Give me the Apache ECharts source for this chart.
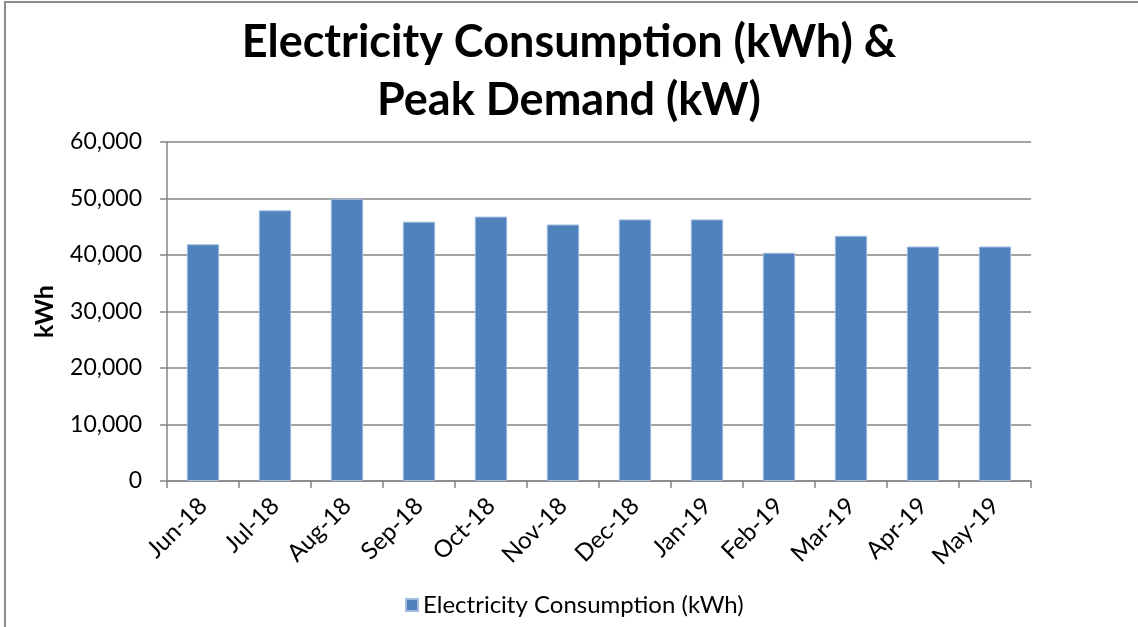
<!DOCTYPE html>
<html>
<head>
<meta charset="utf-8">
<script src="https://cdn.jsdelivr.net/npm/echarts@6/dist/echarts.min.js"></script>
<style>
  html, body { margin: 0; padding: 0; background: #fff; }
  #chart { width: 1138px; height: 627px; }
</style>
</head>
<body>
<div id="chart"></div>
<script>
// month labels along the bottom
var months = ['Jun-18', 'Jul-18', 'Aug-18', 'Sep-18', 'Oct-18', 'Nov-18',
              'Dec-18', 'Jan-19', 'Feb-19', 'Mar-19', 'Apr-19', 'May-19'];
// monthly consumption in kWh
var consumption = [41900, 47900, 49950, 45900, 46800, 45400,
                   46300, 46300, 40400, 43400, 41500, 41500];

var seriesName = 'Electricity Consumption (kWh)';
var gridColor = '#868686';
var barColor = '#4f81bd';
var font = 'Lato';

var chart = echarts.init(document.getElementById('chart'), null, { renderer: 'canvas' });

var option = {
    animation: false,
    backgroundColor: '#fff',
    title: {
        text: 'Electricity Consumption (kWh) &\nPeak Demand (kW)',
        left: 'center',
        top: 8,
        textStyle: {
            fontFamily: font,
            fontWeight: 'bold',
            fontSize: 45,
            lineHeight: 58,
            color: '#000'
        }
    },
    legend: {
        left: 400,
        top: 588,
        itemWidth: 12,
        itemHeight: 12,
        itemGap: 5,
        icon: 'rect',
        textStyle: { fontFamily: font, fontSize: 24, color: '#000' },
        data: [seriesName]
    },
    grid: {
        left: 167,
        right: 107,
        top: 142,
        bottom: 146,
        containLabel: false
    },
    xAxis: {
        type: 'category',
        data: months,
        boundaryGap: true,
        axisLine: { lineStyle: { color: gridColor, width: 1.5 } },
        axisTick: { show: true, length: 7, alignWithLabel: false, lineStyle: { color: gridColor, width: 1.5 } },
        axisLabel: {
            rotate: 45,
            margin: 21,
            fontFamily: font,
            fontSize: 24,
            color: '#000'
        }
    },
    yAxis: {
        type: 'value',
        min: 0,
        max: 60000,
        interval: 10000,
        name: 'kWh',
        nameLocation: 'middle',
        nameGap: 110,
        nameRotate: 90,
        nameTextStyle: { fontFamily: font, fontWeight: 'bold', fontSize: 25, color: '#000' },
        axisLine: { show: true, lineStyle: { color: gridColor, width: 1.5 } },
        axisTick: { show: true, length: 7, lineStyle: { color: gridColor, width: 1.5 } },
        splitLine: { lineStyle: { color: gridColor, width: 1.5 } },
        axisLabel: {
            margin: 25,
            fontFamily: font,
            fontSize: 23,
            color: '#000',
            formatter: function (v) { return v.toLocaleString('en-US'); }
        }
    },
    series: [{
        name: seriesName,
        type: 'bar',
        data: consumption,
        barWidth: '45%',
        itemStyle: {
            color: barColor,
            borderColor: '#a4bddf',
            borderWidth: 1
        }
    }],
    graphic: [{
        type: 'polyline',
        shape: { points: [[5, 627], [5, 2], [1138, 2]] },
        style: { stroke: '#8c8c8c', lineWidth: 2, fill: null },
        silent: true
    }]
};

chart.setOption(option);
</script>
</body>
</html>
